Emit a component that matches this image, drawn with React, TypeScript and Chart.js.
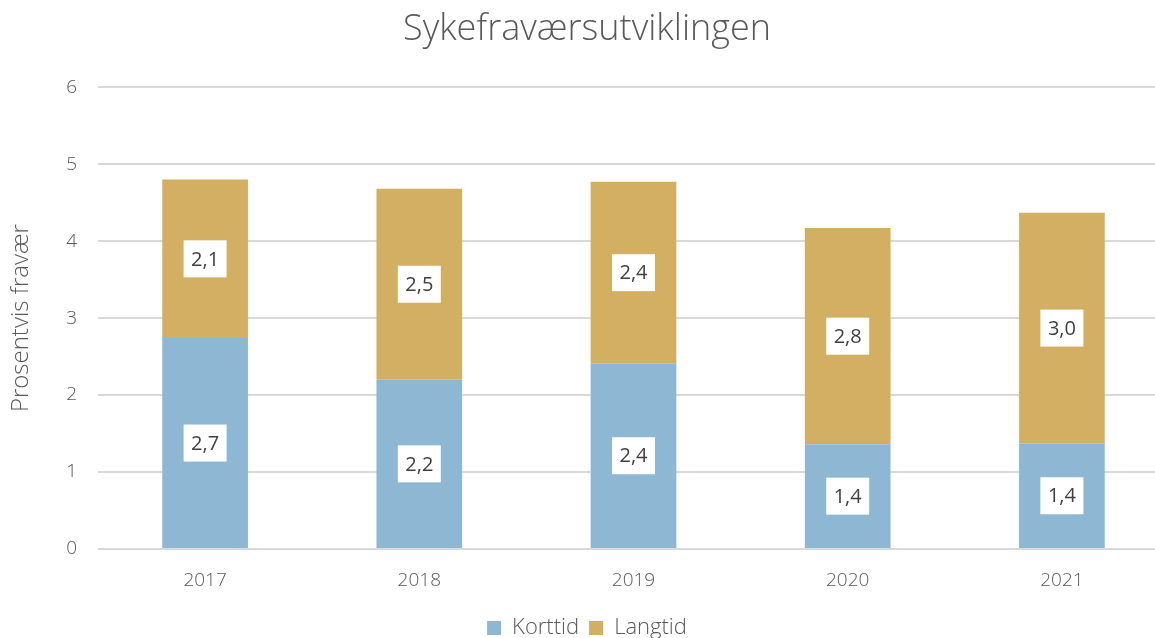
import React, { useEffect, useRef } from "react";
import { Chart, registerables } from "chart.js";

Chart.register(...registerables);

const years = ["2017", "2018", "2019", "2020", "2021"];
const korttid = [2.74, 2.2, 2.41, 1.36, 1.37];
const langtid = [2.06, 2.48, 2.36, 2.81, 3.0];
const seriesNames = ["Korttid", "Langtid"];
const titleText = "Sykefraværsutviklingen";
const yTitle = "Prosentvis fravær";

const FONT = "'Open Sans', 'Noto Sans', sans-serif";
const TEXT = "#595959";

const labelPlugin = {
  id: "boxLabels",
  afterDatasetsDraw(chart: any) {
    const ctx = chart.ctx;
    ctx.save();
    ctx.font = `20px ${FONT}`;
    ctx.textAlign = "center";
    ctx.textBaseline = "middle";
    chart.data.datasets.forEach((ds: any, di: number) => {
      const meta = chart.getDatasetMeta(di);
      meta.data.forEach((bar: any, i: number) => {
        const v = ds.data[i];
        const txt = v.toFixed(1).replace(".", ",");
        const cy = (bar.y + bar.base) / 2;
        const w = 43;
        const h = 37;
        ctx.fillStyle = "#ffffff";
        ctx.fillRect(bar.x - w / 2, cy - h / 2, w, h);
        ctx.fillStyle = "#404040";
        ctx.fillText(txt, bar.x, cy + 1);
      });
    });
    ctx.restore();
  },
};

export default function App() {
  const ref = useRef<HTMLCanvasElement | null>(null);
  useEffect(() => {
    if (!ref.current) return;
    const chart = new Chart(ref.current, {
      type: "bar",
      data: {
        labels: years,
        datasets: [
          { label: seriesNames[0], data: korttid, backgroundColor: "#8DB7D3", borderWidth: 0 },
          { label: seriesNames[1], data: langtid, backgroundColor: "#D2AF63", borderWidth: 0 },
        ],
      },
      options: {
        animation: false,
        responsive: true,
        maintainAspectRatio: false,
        layout: { padding: { top: 0, right: 19, left: 5, bottom: -11 } },
        datasets: { bar: { categoryPercentage: 0.4, barPercentage: 1 } },
        scales: {
          x: {
            stacked: true,
            grid: { display: false },
            border: { display: false },
            ticks: { color: TEXT, font: { family: FONT, size: 19, weight: "300" }, padding: 12 },
            afterFit: (s: any) => { s.height = 58; },
          },
          y: {
            stacked: true,
            min: 0,
            max: 6,
            ticks: { stepSize: 1, color: TEXT, font: { family: FONT, size: 19, weight: "300" }, padding: 21 },
            grid: { color: "#D9D9D9", lineWidth: 2, drawTicks: false },
            border: { display: false },
            title: { display: true, text: yTitle, color: TEXT, font: { family: FONT, size: 24, weight: "300" }, padding: { top: 2, bottom: 4 } },
            afterFit: (s: any) => { s.width = 93; },
          },
        },
        plugins: {
          title: {
            display: true,
            text: titleText,
            color: TEXT,
            font: { family: FONT, size: 36, weight: "300" },
            padding: { top: 8, bottom: 36 },
          },
          legend: {
            position: "bottom",
            labels: {
              color: TEXT,
              font: { family: FONT, size: 22, weight: "300" },
              boxWidth: 14,
              boxHeight: 14,
              padding: 10,
            },
          },
          tooltip: { enabled: false },
        },
      },
      plugins: [labelPlugin],
    });
    return () => chart.destroy();
  }, []);
  return (
    <div style={{ position: "fixed", left: 0, top: 0, width: 1155, height: 638, overflow: "hidden", background: "#fff" }}>
      <div style={{ position: "relative", width: 1188, height: 638 }}>
        <canvas ref={ref} />
      </div>
    </div>
  );
}
